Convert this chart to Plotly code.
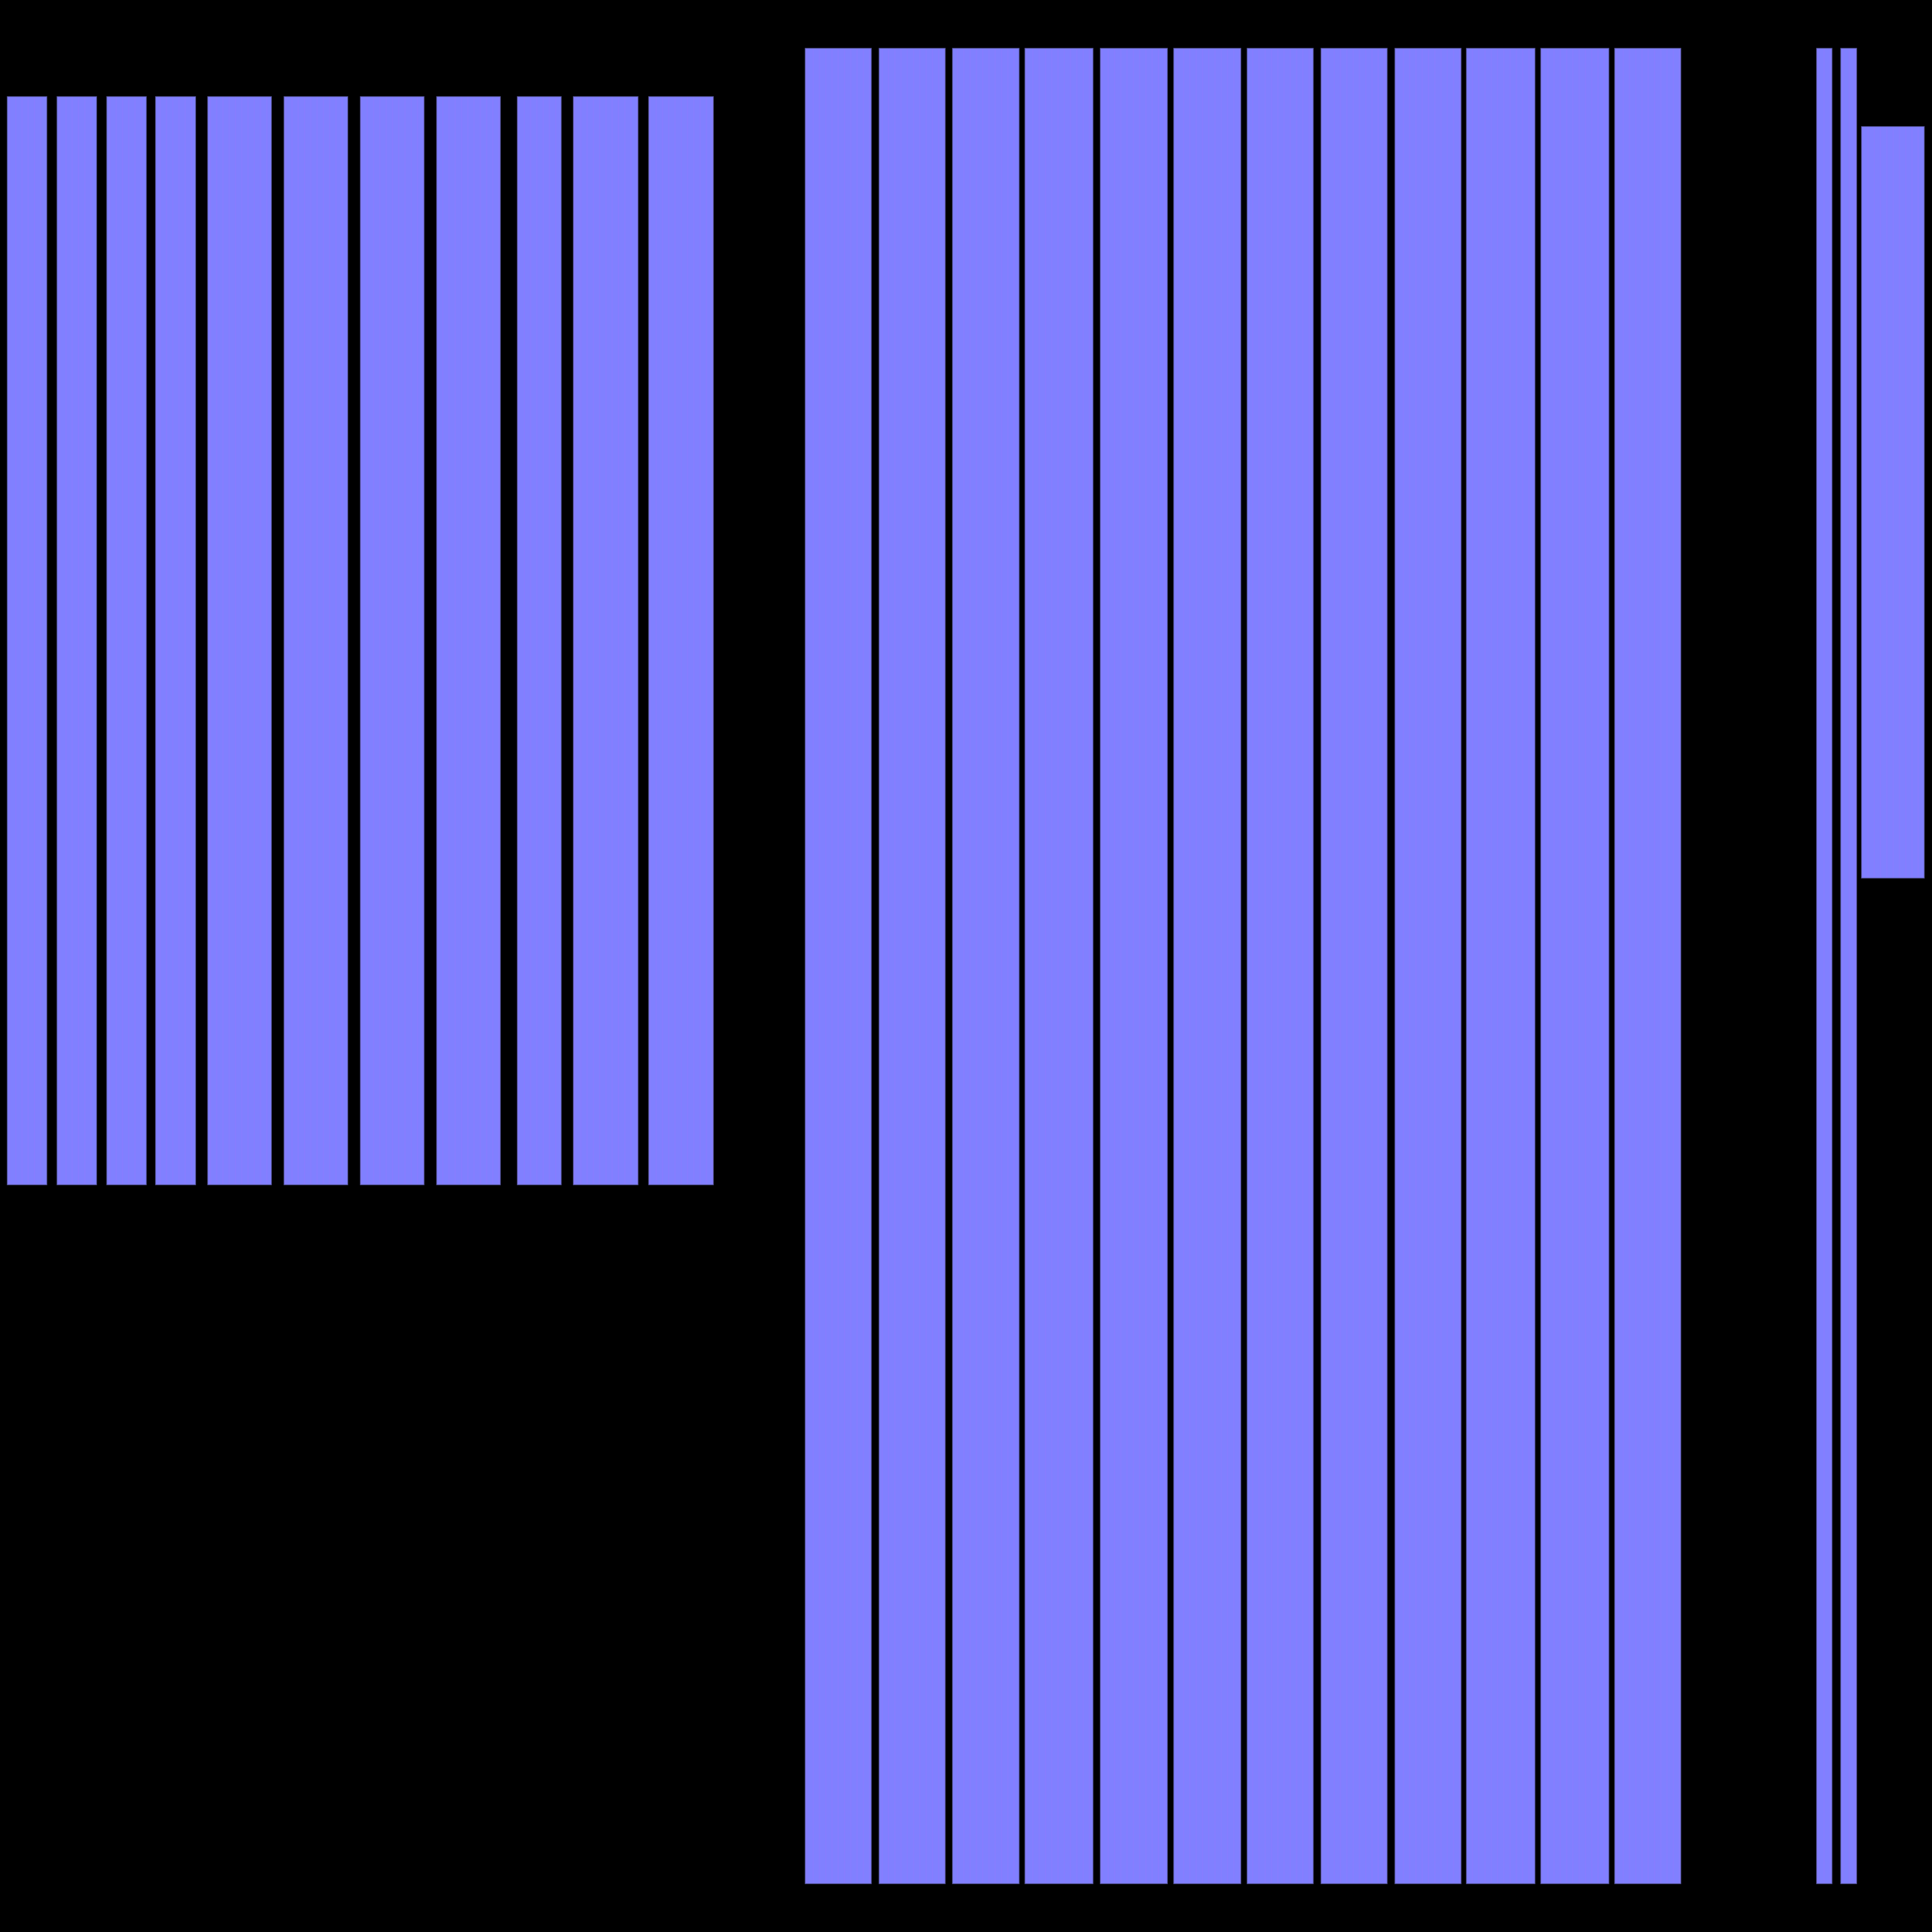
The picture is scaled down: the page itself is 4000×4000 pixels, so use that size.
import plotly.graph_objects as go

# Bar extents (x in horizontal units, y in vertical units, 0..4000 scale)
group1_left = [15, 118, 221, 322, 430, 588, 746, 904, 1071, 1187, 1343]
group1_right = [97, 200, 303, 405, 562, 720, 878, 1036, 1162, 1321, 1477]
group1_low = 1547
group1_high = 3800

group2_left = [1667, 1820, 1972, 2122, 2278, 2430, 2582, 2735, 2888, 3036, 3190, 3343]
group2_right = [1804, 1957, 2110, 2263, 2417, 2569, 2719, 2872, 3025, 3178, 3331, 3480]
group2_low = 100
group2_high = 3900

group3_left = [3761, 3811, 3854]
group3_right = [3793, 3844, 3984]
group3_low = [100, 100, 2182]
group3_high = [3900, 3900, 3738]

BAR_FILL = "#8080ff"
BAR_LINE = "#55559a"


def add_group(fig, lefts, rights, lows, highs):
    centers = [(l + r) / 2 for l, r in zip(lefts, rights)]
    widths = [r - l for l, r in zip(lefts, rights)]
    if not isinstance(lows, list):
        lows = [lows] * len(lefts)
    if not isinstance(highs, list):
        highs = [highs] * len(lefts)
    heights = [h - lo for lo, h in zip(lows, highs)]
    fig.add_trace(go.Bar(
        x=centers, y=heights, base=lows, width=widths,
        marker=dict(
            color=BAR_FILL,
            line=dict(color=BAR_LINE, width=1.5),
            pattern=dict(shape="|", fillmode="overlay", bgcolor=BAR_FILL,
                         fgcolor="#8b7bff", size=13, solidity=0.22),
        ),
        hoverinfo="skip", showlegend=False,
    ))


fig = go.Figure()
add_group(fig, group1_left, group1_right, group1_low, group1_high)
add_group(fig, group2_left, group2_right, group2_low, group2_high)
add_group(fig, group3_left, group3_right, group3_low, group3_high)

fig.update_layout(
    width=4000, height=4000,
    margin=dict(l=0, r=0, t=0, b=0),
    paper_bgcolor="black", plot_bgcolor="black",
    showlegend=False,
    xaxis=dict(range=[0, 4000], visible=False, showgrid=False, zeroline=False),
    yaxis=dict(range=[0, 4000], visible=False, showgrid=False, zeroline=False),
    barmode="overlay",
)

fig.write_html("out.html")
